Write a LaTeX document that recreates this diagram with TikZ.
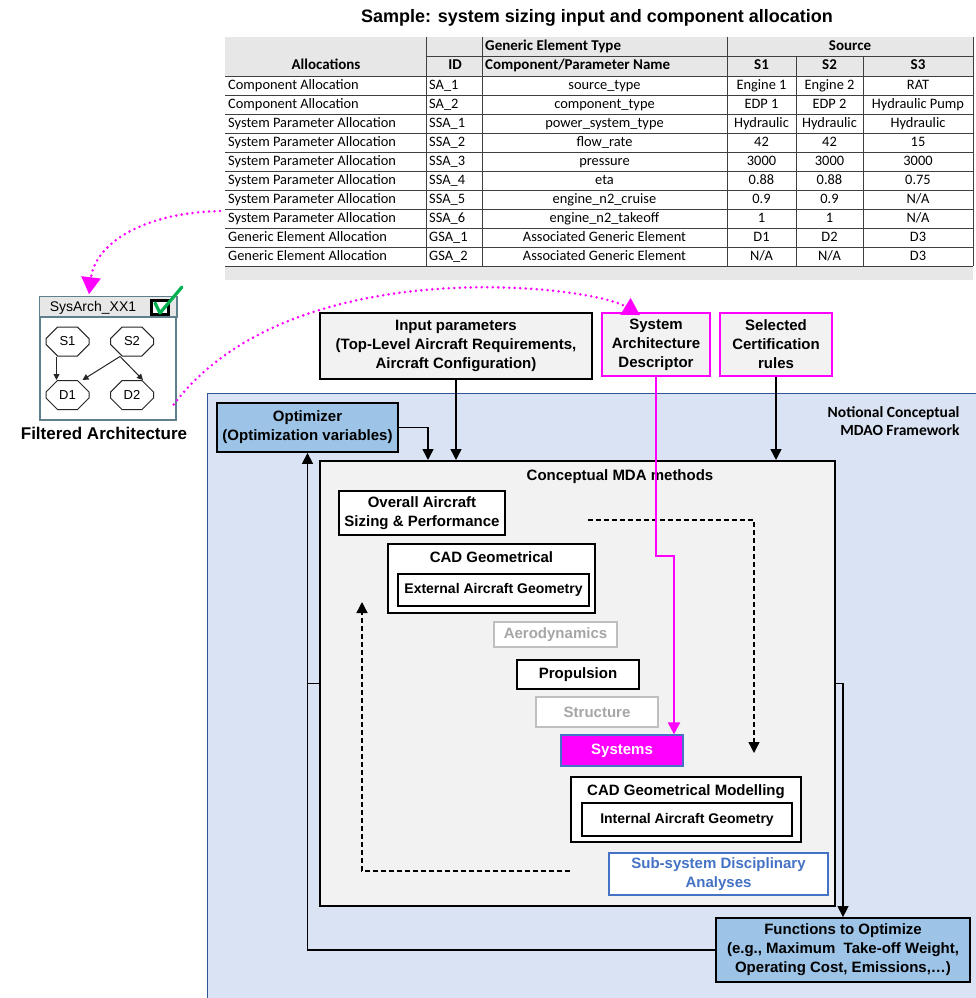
\documentclass[tikz,border=0pt]{standalone}
\usepackage{fontspec}
\setmainfont{Liberation Sans}
\newfontfamily\tabfont{Carlito}
\usetikzlibrary{arrows.meta}
\usetikzlibrary{shapes.misc}

\definecolor{framebg}{HTML}{DAE3F3}
\definecolor{frameline}{HTML}{2F5597}
\definecolor{boxgray}{HTML}{F2F2F2}
\definecolor{optblue}{HTML}{9DC3E6}
\definecolor{subblue}{HTML}{4472C4}
\definecolor{magentaline}{HTML}{FF00FF}
\definecolor{lightline}{HTML}{BFBFBF}
\definecolor{lighttext}{HTML}{A6A6A6}
\definecolor{headgray}{HTML}{E7E7E7}
\definecolor{gridline}{HTML}{3F3F3F}
\definecolor{archline}{HTML}{5F7F8C}
\definecolor{checkgreen}{HTML}{00B050}

\newcommand\na{N/A}

\begin{document}
\begin{tikzpicture}[x=1pt, y=-1pt,
	lbl/.style={font=\bfseries\fontsize{15}{19}\selectfont, align=center},
	sz/.style 2 args={minimum width=#1pt, minimum height=#2pt, inner sep=0pt},
	blk/.style={lbl, draw=black, line width=1.8pt},
	graybox/.style={blk, fill=boxgray},
	whitebox/.style={blk, fill=white},
	fadedbox/.style={lbl, draw=lightline, line width=1.8pt, fill=white, text=lighttext},
	optbox/.style={blk, fill=optblue},
	pinkbox/.style={lbl, draw=magentaline, line width=1.8pt, fill=boxgray},
	innerbox/.style={whitebox, font=\bfseries\fontsize{14}{17}\selectfont},
	conn/.style={line width=1.4pt, -{Triangle[length=11pt,width=11pt]}},
	dashconn/.style={conn, dash pattern=on 5pt off 3pt},
	pinkconn/.style={magentaline, line width=2pt, -{Triangle[length=12pt,width=12pt]}},
	pinkdots/.style={magentaline, line width=2.8pt, line cap=round, dash pattern=on 0pt off 5.5pt, -{Triangle[length=17pt,width=19pt]}},
	cell/.style={font=\tabfont\fontsize{14.4}{17}\selectfont, inner sep=0pt, text height=10pt, text depth=3pt},
	thead/.style={font=\tabfont\bfseries\fontsize{15}{18}\selectfont, inner sep=0pt, text height=10pt, text depth=3pt},
	tabline/.style={gridline, line width=0.8pt},
	oct/.style={chamfered rectangle, chamfered rectangle xsep=7pt, chamfered rectangle ysep=7pt, draw=black!85, line width=1pt, fill=white, minimum width=43pt, minimum height=29pt, inner sep=0pt, font=\fontsize{13}{15}\selectfont},
	archarr/.style={black!85, line width=1pt, -{Triangle[length=6pt,width=6pt]}}]

	\useasboundingbox (0,0) rectangle (976,998);

	% sample table
	\node[font=\bfseries\fontsize{18}{22}\selectfont] (title) at (597,18) {Sample: system sizing input and component allocation};
	\fill[headgray] (225,37) rectangle (973,280);
	\fill[white] (225,76) rectangle (973,266);
	\foreach \y in {76,95,...,266}
		\draw[tabline] (225,\y) -- (973,\y);
	\draw[tabline] (426,56) -- (973,56);
	\foreach \x in {426,482,727,973}
		\draw[tabline] (\x,37) -- (\x,266);
	\foreach \x in {796,863}
		\draw[tabline] (\x,56) -- (\x,266);

	\node[thead] (hall) at (326,66) {Allocations};
	\node[thead] (hid) at (455,66) {ID};
	\node[thead, anchor=west] (htype) at (485,47) {Generic Element Type};
	\node[thead, anchor=west] (hname) at (485,66) {Component/Parameter Name};
	\node[thead] (hsrc) at (850,47) {Source};
	\node[thead] (hs1) at (761.5,66) {S1};
	\node[thead] (hs2) at (829.5,66) {S2};
	\node[thead] (hs3) at (918,66) {S3};

	\foreach \al/\id/\pn/\va/\vb/\vc [count=\r] in {
		Component Allocation/SA\_1/source\_type/Engine 1/Engine 2/RAT,
		Component Allocation/SA\_2/component\_type/EDP 1/EDP 2/Hydraulic Pump,
		System Parameter Allocation/SSA\_1/power\_system\_type/Hydraulic/Hydraulic/Hydraulic,
		System Parameter Allocation/SSA\_2/flow\_rate/42/42/15,
		System Parameter Allocation/SSA\_3/pressure/3000/3000/3000,
		System Parameter Allocation/SSA\_4/eta/0.88/0.88/0.75,
		System Parameter Allocation/SSA\_5/engine\_n2\_cruise/0.9/0.9/\na,
		System Parameter Allocation/SSA\_6/engine\_n2\_takeoff/1/1/\na,
		Generic Element Allocation/GSA\_1/Associated Generic Element/D1/D2/D3,
		Generic Element Allocation/GSA\_2/Associated Generic Element/\na/\na/D3}
	{
		\node[cell, anchor=west] (al\r) at (228,66.5+19*\r) {\al};
		\node[cell, anchor=west] (id\r) at (429,66.5+19*\r) {\id};
		\node[cell] (pn\r) at (604.5,66.5+19*\r) {\pn};
		\node[cell] (va\r) at (761.5,66.5+19*\r) {\va};
		\node[cell] (vb\r) at (829.5,66.5+19*\r) {\vb};
		\node[cell] (vc\r) at (918,66.5+19*\r) {\vc};
	}

	% filtered architecture
	\node[draw=archline, line width=1.5pt, fill=white, sz={136}{123}] (arch) at (108,358.5) {};
	\filldraw[fill=headgray, draw=archline, line width=1.5pt] (arch.north west) rectangle (arch.north east |- 0,317);
	\node[font=\fontsize{14}{16}\selectfont] (archname) at (93,307.5) {SysArch\_XX1};
	\node[draw=black, line width=2.2pt, fill=white, sz={17}{14}] (chk) at (160,307.5) {};
	\draw[checkgreen, line width=3.2pt, line join=round, line cap=round] (155,303) -- (160,313) -- (182,287);
	\node[oct] (s1) at (67.5,341.5) {S1};
	\node[oct] (s2) at (132,341.5) {S2};
	\node[oct] (d1) at (67.5,395) {D1};
	\node[oct] (d2) at (132,395) {D2};
	\draw[archarr] ([xshift=-11pt]s1.south) -- ([xshift=-11pt]d1.north);
	\draw[archarr] ([xshift=-12pt]s2.south) -- ([xshift=15pt]d1.north);
	\draw[archarr] ([xshift=-12pt]s2.south) -- ([xshift=11pt]d2.north);
	\node[font=\bfseries\fontsize{17}{20}\selectfont] (archlbl) at (104,433) {Filtered Architecture};

	% framework
	\filldraw[fill=framebg, draw=frameline, line width=1pt] (207,393) rectangle (990,1010);
	\node[font=\tabfont\bfseries\fontsize{15.5}{18}\selectfont, align=right, anchor=east] (fwlbl) at (963,421) {Notional Conceptual\\MDAO Framework};

	\node[graybox, sz={272}{66}] (inp) at (456,346) {Input parameters\\(Top-Level Aircraft Requirements,\\Aircraft Configuration)};
	\node[pinkbox, sz={108}{63}] (sad) at (656,344.5) {System\\Architecture\\Descriptor};
	\node[pinkbox, sz={112}{63}] (cert) at (776,344.5) {Selected\\Certification\\rules};
	\node[optbox, sz={181}{49}, align=center] (opt) at (307.5,427.5) {Optimizer\\(Optimization variables)};

	\node[graybox, sz={515}{445}, line width=2pt] (mda) at (577.5,683.5) {};
	\node[lbl] (mdalbl) at (620,477) {Conceptual MDA methods};

	\node[whitebox, sz={166}{44}] (oas) at (422,513) {Overall Aircraft\\Sizing \& Performance};
	\node[whitebox, sz={207}{69}, label={[lbl, anchor=north, inner sep=0pt, yshift=-8pt]north:CAD Geometrical}] (cadg) at (491.5,578.5) {};
	\node[innerbox, sz={191}{32}] (ext) at (493.5,590) {External Aircraft Geometry};
	\node[fadedbox, sz={123}{25}] (aero) at (555.5,634.5) {Aerodynamics};
	\node[whitebox, sz={122}{29}] (prop) at (578,674.5) {Propulsion};
	\node[fadedbox, sz={122}{30}] (struct) at (597,712) {Structure};
	\node[lbl, draw=subblue, line width=1.2pt, fill=magentaline, text=white, sz={122}{31}] (sys) at (622,750.5) {Systems};
	\node[whitebox, sz={230}{65}, label={[lbl, anchor=north, inner sep=0pt, yshift=-8pt]north:CAD Geometrical Modelling}] (cadm) at (686,809.5) {};
	\node[innerbox, sz={210}{33}] (int) at (687,819.5) {Internal Aircraft Geometry};
	\node[lbl, draw=subblue, line width=1.6pt, fill=white, text=subblue, sz={219}{42}] (sub) at (718.5,874) {Sub-system Disciplinary\\Analyses};

	\node[optbox, sz={254}{64}] (fun) at (843,950) {Functions to Optimize\\(e.g., Maximum\ \ Take-off Weight,\\Operating Cost, Emissions,\ldots)};

	% connectors
	\draw[conn] (opt.east) -| ([xshift=-149.5pt]mda.north);
	\draw[conn] (inp.south) -- (inp.south |- mda.north);
	\draw[conn] (cert.south) -- (cert.south |- mda.north);
	\draw[conn] (mda.east) -| (fun.north);
	\draw[conn] (fun.west) -| (opt.south);
	\draw[line width=1.4pt] (mda.west) -- (mda.west -| opt.south);

	\coordinate (dtop) at (588,520);
	\coordinate (dright) at (754,753);
	\draw[dashconn] (dtop) -| (dright);
	\coordinate (dbot) at (570,871);
	\coordinate (dleft) at (362,602);
	\draw[dashconn] (dbot) -| (dleft);

	\coordinate (bend) at (674,556);
	\draw[pinkconn] (sad.south) |- (bend) -- (bend |- sys.north);

	% dotted links
	\coordinate (tabsrc) at (220,211);
	\draw[pinkdots] (tabsrc) .. controls (140,213) and (95,245) .. ([xshift=-19pt, yshift=2pt]arch.north);
	\draw[pinkdots] ([yshift=-46pt, xshift=-3pt]arch.east) .. controls (290,250) and (590,285) .. ([xshift=-16pt, yshift=-3pt]sad.north);
\end{tikzpicture}
\end{document}
